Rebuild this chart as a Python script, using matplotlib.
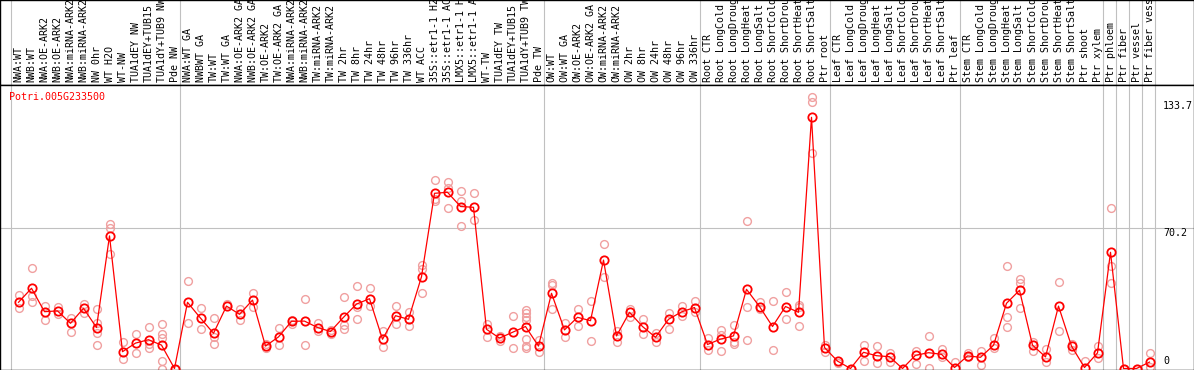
import matplotlib
matplotlib.use("Agg")
import matplotlib.pyplot as plt

gene = "Potri.005G233500"

samples = [
    "NWA:WT", "NWB:WT", "NWA:OE-ARK2", "NWB:OE-ARK2", "NWA:miRNA-ARK2", "NWB:miRNA-ARK2",
    "NW 0hr", "WT H2O", "WT-NW", "TUA1dEY NW", "TUA1dEY+TUB15", "TUA1dY+TUB9 NW", "Pde NW",
    "NWA:WT GA", "NWBWT GA", "TW:WT", "TW:WT GA", "NWA:OE-ARK2 GA", "NWB:OE-ARK2 GA",
    "TW:OE-ARK2", "TW:OE-ARK2 GA", "NWA:miRNA-ARK2", "NWB:miRNA-ARK2", "TW:miRNA-ARK2",
    "TW:miRNA-ARK2", "TW 2hr", "TW 8hr", "TW 24hr", "TW 48hr", "TW 96hr", "TW 336hr",
    "WT ACC", "35S::etr1-1 H2O", "35S::etr1-1 ACC", "LMX5::etr1-1 H2O", "LMX5::etr1-1 ACC",
    "WT-TW", "TUA1dEY TW", "TUA1dEY+TUB15", "TUA1dY+TUB9 TW", "Pde TW",
    "OW:WT", "OW:WT GA", "OW:OE-ARK2", "OW:OE-ARK2 GA", "OW:miRNA-ARK2", "OW:miRNA-ARK2",
    "OW 2hr", "OW 8hr", "OW 24hr", "OW 48hr", "OW 96hr", "OW 336hr",
    "Root CTR", "Root LongCold", "Root LongDrought", "Root LongHeat", "Root LongSalt",
    "Root ShortCold", "Root ShortDrought", "Root ShortHeat", "Root ShortSalt", "Ptr root",
    "Leaf CTR", "Leaf LongCold", "Leaf LongDrought", "Leaf LongHeat", "Leaf LongSalt",
    "Leaf ShortCold", "Leaf ShortDrought", "Leaf ShortHeat", "Leaf ShortSalt", "Ptr leaf",
    "Stem CTR", "Stem LongCold", "Stem LongDrought", "Stem LongHeat", "Stem LongSalt",
    "Stem ShortCold", "Stem ShortDrought", "Stem ShortHeat", "Stem ShortSalt", "Ptr shoot",
    "Ptr xylem", "Ptr phloem", "Ptr fiber", "Ptr vessel", "Ptr fiber vessel",
]

means = [
    33.1, 40.1, 28.4, 28.8, 22.6, 30.1, 20.5, 66.3, 8.4, 12.7, 14.4, 11.7, 0.0,
    33.1, 25.2, 17.6, 31.2, 27.1, 34.2, 11.2, 15.8, 23.6, 23.7, 20.5, 18.5, 25.6,
    32.2, 34.9, 14.6, 26.4, 24.6, 45.9, 87.6, 88.1, 81.0, 80.6, 19.6, 15.2, 18.1,
    21.0, 11.2,
    37.6, 19.3, 25.6, 23.9, 54.2, 16.3, 28.1, 21.0, 15.6, 24.6, 28.3, 30.5,
    12.0, 14.7, 16.3, 39.6, 31.0, 21.0, 31.0, 28.1, 125.6, 10.5,
    3.7, 0.0, 8.1, 6.4, 5.9, 0.0, 6.6, 7.9, 7.1, 0.5,
    6.3, 5.6, 11.6, 32.6, 39.1, 11.7, 5.8, 31.2, 11.2, 0.5, 7.8,
    58.1, 0.0, 0.0, 3.2,
]

replicates = [
    [36.9, 30.5], [50.5, 36.1, 33.1], [31.4, 24.2], [30.6, 27.1], [25.1, 18.4],
    [32.2, 27.9], [29.8, 22.9, 17.9, 11.7], [72.1, 70.1, 57.3], [13.4, 4.6], [17.3, 7.8],
    [20.7, 12.5, 10.1], [22.2, 17.3, 15.1, 3.7, 0.0], [0.0],
    [43.7, 22.6], [30.1, 19.8], [25.2, 15.9, 12.2], [32.2], [30.0, 24.2], [37.8, 30.6],
    [12.5, 10.1], [20.1, 11.7], [24.5, 22.5], [34.6, 12.0], [22.9, 19.0], [19.5, 17.5],
    [35.6, 21.7, 19.6], [41.2, 31.0, 24.6], [40.1, 31.2], [18.8, 10.6], [31.2, 22.1],
    [28.4, 21.5], [51.7, 49.8, 37.6], [94.2, 84.7, 83.7], [93.2, 90.4, 80.5],
    [88.8, 83.9, 71.2], [87.8, 74.2], [22.2, 15.9], [16.3, 13.9], [26.3, 10.3],
    [29.3, 27.6, 25.9, 24.2, 14.7, 11.4, 10.1], [14.2, 8.4],
    [42.9, 41.7, 29.6], [22.6, 15.6], [29.6, 21.5], [33.7, 13.7], [62.2, 45.9],
    [19.0, 13.1], [30.0, 25.9], [24.7, 17.1], [17.6, 13.4], [27.6, 19.9], [31.2, 26.3],
    [33.7, 28.1],
    [15.1, 9.1], [19.3, 17.0, 8.8], [21.7, 13.5, 12.5], [73.7, 31.0, 14.2], [33.4, 29.6],
    [33.7, 9.3], [38.1, 24.6], [31.8, 31.0, 21.2], [135.6, 133.4, 107.6], [12.0, 8.4],
    [2.6], [0.0], [12.0, 3.6], [11.2, 2.9], [7.6, 3.4], [0.0], [8.9, 2.4], [16.4, 0.3],
    [10.0, 5.6], [3.2],
    [7.6, 6.0], [8.8, 1.6], [15.1, 10.1], [51.2, 25.6, 20.6], [44.6, 42.6, 30.5],
    [13.4, 8.9], [9.6, 3.1], [43.2, 18.8], [12.5, 9.3], [3.7], [11.2, 5.1],
    [80.2, 51.4, 42.6], [0.0], [0.0], [7.6, 0.9],
]

# index of first sample in each group (plus end)
group_starts = [0, 13, 41, 53, 63, 73, 84, 85, 86, 87, 88]
ytick_vals = [133.7, 70.2, 0]

mono = "DejaVu Sans Mono"
W, H = 1194, 370
head_px = 85
fig = plt.figure(figsize=(W / 100, H / 100), dpi=100)

xlim = (-18.5 / 13, (W - 18.5) / 13)

hax = fig.add_axes([0, 1 - head_px / H, 1, head_px / H])
ax = fig.add_axes([0, 0, 1, 1 - head_px / H])

for a in (hax, ax):
    a.set_xlim(*xlim)
    a.set_xticks([])
    a.set_yticks([])
    for s in a.spines.values():
        s.set_color("black")
        s.set_linewidth(1.0)
    for g in group_starts:
        a.axvline(g - 0.615, color="#c0c0c0", lw=0.8, zorder=0)

hax.set_ylim(0, 1)
for i, name in enumerate(samples):
    hax.text(i, 0.03, name[:14], rotation=90, ha="center", va="bottom",
             fontsize=7.2, family=mono, clip_on=True)

ax.set_ylim(-0.75, 141.75)
ax.axhline(70.2, color="#c0c0c0", lw=0.8, zorder=0)

rx = [i for i, r in enumerate(replicates) for _ in r]
ry = [v for r in replicates for v in r]
ax.plot(rx, ry, "o", ms=5.6, mfc="none", mec="#f0a0a0", mew=1.0, zorder=2)
ax.plot(range(len(means)), means, "-", color="red", lw=0.9, zorder=3)
ax.plot(range(len(means)), means, "o", ms=6.0, mfc="none", mec="red", mew=1.3, zorder=4)

lx = (1163 - 18.5) / 13
ax.text(lx, ytick_vals[0], "%.1f" % ytick_vals[0], ha="left", va="top",
        fontsize=7.2, family=mono)
ax.text(lx, ytick_vals[1], "%.1f" % ytick_vals[1], ha="left", va="top",
        fontsize=7.2, family=mono)
ax.text(lx, ytick_vals[2] + 1.2, "0", ha="left", va="bottom",
        fontsize=7.2, family=mono)

ax.text(9 / 13 - 18.5 / 13, 136.0, gene, color="red", ha="left", va="center",
        fontsize=7.2, family=mono)

fig.savefig("out.png", dpi=100)
